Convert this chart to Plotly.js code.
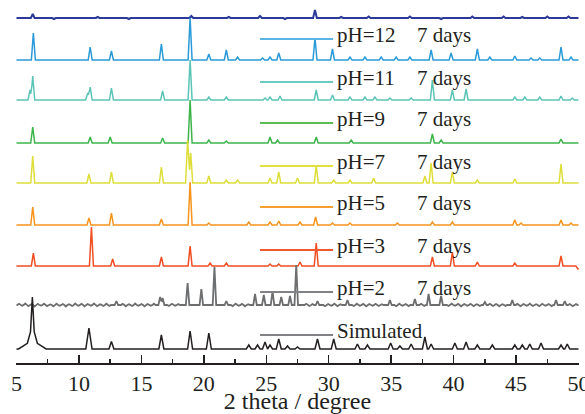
<!DOCTYPE html>
<html>
<head>
<meta charset="utf-8">
<script src="https://cdn.plot.ly/plotly-3.0.1.min.js"></script>
<style>
  html, body { margin: 0; padding: 0; background: #ffffff; }
  #chart { width: 585px; height: 414px; }
</style>
</head>
<body>
<div id="chart"></div>
<script>
// ---------- DATA (2 theta in degrees, relative intensity) ----------
const seriesNames = ["", "pH=12", "pH=11", "pH=9", "pH=7", "pH=5", "pH=3", "pH=2", "Simulated"];
const labelSuffix = ["", "7 days", "7 days", "7 days", "7 days", "7 days", "7 days", "7 days", ""];

// peaks: [position, height] (optional third value: half base width)
const peaksTop = [[6.3,4],[19.0,2],[24.5,2],[28.9,8],[33.2,1.5],[36.5,1.5],[41.5,1.5],[44.0,1.5],[47.5,1.5],[49.2,1.5],
  [8.0,-1],[11.5,1],[14.0,-1],[22.0,1],[26.5,-1],[31.0,1],[39.0,-1],[45.5,1]];
const peaksPH12 = [[6.35,27],[10.9,13],[12.6,9],[16.6,16],[18.9,42],[20.4,6],[21.8,10],[22.7,3],[24.7,2],[25.3,3],[26.0,7],
  [28.9,22],[30.3,11],[31.7,3],[32.9,3],[34.2,3],[35.4,3],[36.5,3],[38.2,10],[39.8,7],[41.9,11],[42.9,3],[44.9,4],
  [46.2,2],[46.9,2],[48.6,13],[49.4,3]];
const peaksPH11 = [[6.08,10],[6.3,24],[10.7,7],[10.9,13],[12.6,12],[16.7,9],[18.9,40],[20.4,3],[21.8,3],[24.9,2],[25.3,3],
  [26.1,4],[29.0,10],[30.3,5],[31.7,3],[32.9,3],[33.7,3],[34.9,2],[36.6,2],[38.3,20],[39.9,10],[41.0,11],[44.9,3],
  [45.7,3],[46.9,3],[48.6,4],[49.5,2]];
const peaksPH9 = [[6.3,16],[10.9,6],[12.5,6],[16.7,5],[18.9,43],[20.4,3],[21.8,2],[25.3,6],[25.9,3],[29.0,6],[31.8,3],
  [38.3,9],[39.0,3],[48.6,4]];
const peaksPH7 = [[6.3,27],[10.8,9],[12.6,11],[16.6,16],[18.7,43],[18.95,30],[20.4,7],[21.8,3],[22.7,3],[25.3,5],[26.0,11],
  [27.5,5],[29.0,17],[30.4,3],[31.7,3],[33.6,5],[37.7,7],[38.2,20],[39.9,11],[41.9,3],[44.9,4],[48.6,19]];
const peaksPH5 = [[6.3,18],[10.8,7],[12.6,12],[16.6,6],[18.9,43],[20.4,2],[23.6,3],[25.3,3],[26.0,4],[27.7,3],[28.95,8],
  [30.3,2],[31.7,2],[35.5,2],[38.3,3],[39.9,3],[44.9,5],[45.4,2],[48.6,5],[49.4,2]];
const peaksPH3 = [[6.35,13],[11.0,39],[12.7,7],[16.6,9],[18.9,20],[20.5,3],[21.8,3],[25.3,2],[26.0,2],[27.7,4],[29.0,23],
  [38.3,9],[39.9,14],[41.9,4],[44.9,3],[48.6,10],[49.95,-3]];
const peaksPH2 = [[13.0,4],[16.5,8],[16.7,7],[18.7,22],[19.8,16],[20.85,38],[21.8,4],[24.1,11],[24.8,10],[25.5,14],[26.2,8],
  [26.9,9],[27.4,40],[29.1,4],[31.5,5],[34.9,5],[36.9,6],[38.0,11],[39.0,9],[42.5,3],[44.7,5],[48.2,5],[48.9,4]];
const noisePH2 = [[5.2,1.2],[5.45,-0.8],[5.7,1.5],[5.95,-1.2],[6.2,0.7],[6.45,-1.5],[6.7,1.1],[6.95,-0.6],[7.2,1.4],
  [7.45,-1.1],[7.7,0.6],[7.95,-1.4],[8.2,1.3],[8.45,-0.7],[8.7,1.0],[8.95,-1.5],[9.2,0.8],[9.45,-1.0],[9.7,1.6],
  [9.95,-0.7],[10.2,1.2],[10.45,-1.3],[10.7,0.9],[10.95,-0.8],[11.2,1.5],[11.45,-1.2],[11.7,0.7],[11.95,-1.0],
  [12.2,1.3],[12.45,-0.9],[13.5,1.1],[13.75,-1.3],[14.0,0.8],[14.25,-1.0],[14.5,1.5],[14.75,-0.7],[15.0,1.0],
  [15.25,-1.4],[15.5,0.9],[15.75,-0.8],[16.0,1.3],[17.2,-1.0],[17.45,1.2],[17.7,-0.8],[17.95,1.0],[22.3,-1.1],
  [22.55,1.3],[22.8,-0.8],[23.05,1.1],[23.3,-1.3],[23.55,0.8],[28.2,1.2],[28.45,-1.0],[28.7,0.9],[29.7,-1.2],
  [29.95,1.0],[30.2,-0.8],[30.45,1.4],[30.7,-1.1],[30.95,0.7],[32.0,-1.0],[32.25,1.3],[32.5,-0.8],[32.75,1.1],
  [33.0,-1.4],[33.25,0.9],[33.5,-0.7],[33.75,1.2],[34.0,-1.0],[34.25,0.8],[35.4,-1.2],[35.65,1.4],[35.9,-0.8],
  [36.15,1.0],[36.4,-1.1],[37.4,1.2],[37.65,-0.9],[39.6,-1.0],[39.85,1.3],[40.1,-0.8],[40.35,1.1],[40.6,-1.3],
  [40.85,0.9],[41.1,-0.7],[41.35,1.2],[41.6,-1.1],[41.85,0.8],[42.1,-1.0],[42.9,1.2],[43.15,-0.9],[43.4,1.0],
  [43.65,-1.3],[43.9,0.8],[44.15,-0.9],[45.1,1.1],[45.35,-1.2],[45.6,0.9],[45.85,-0.8],[46.1,1.4],[46.35,-1.0],
  [46.6,0.8],[46.85,-1.2],[47.1,1.1],[47.35,-0.7],[47.6,1.0],[47.85,-1.1],[49.3,1.0],[49.55,-1.2],[49.8,0.9]];
const peaksSim = [[6.27,28,0.15],[6.27,15,0.4],[6.27,9,1.1],[10.8,21,0.25],[12.6,7.5],[16.6,14],[18.9,18],[20.4,16],[23.6,4],
  [24.3,4],[24.9,7],[25.3,4],[26.0,10],[26.7,3],[27.5,2],[29.1,10],[30.4,10],[32.3,5],[33.1,4],[34.96,6],[35.7,3],
  [36.6,5],[37.7,12],[38.2,5],[40.1,6],[41.0,7],[41.9,4],[43.1,4],[44.9,4],[45.5,4],[46.1,5],[47.0,6],[48.6,4],[49.1,5]];

const xTickVals = [5,10,15,20,25,30,35,40,45,50];
const xTitle = "2 theta / degree";

// ---------- STYLE / LAYOUT CONFIG ----------
const X_MIN = 5, X_MAX = 50;
const allPeaks = [peaksTop, peaksPH12, peaksPH11, peaksPH9, peaksPH7, peaksPH5, peaksPH3, peaksPH2.concat(noisePH2), peaksSim];
const offsets = [345, 303, 263, 220, 180, 138, 97, 58, 14];
const halfWidths = [0.15, 0.16, 0.16, 0.16, 0.16, 0.16, 0.16, 0.14, 0.2];
const lineWidths = [2, 1.5, 1.5, 1.5, 1.5, 1.5, 1.5, 1.8, 1.5];
const colors = ["#2b3a98", "#2a9ad8", "#5cc4b6", "#3db54a", "#dede3a", "#f7941d", "#f04e23", "#6d6e70", "#231f20"];
const keyColors = ["", "#5ab4e4", "#6ccac0", "#5dbd55", "#e2e040", "#f7a030", "#f05a30", "#808285", "#808285"];
const keyY = [0, 324, 281, 240, 197, 156, 113, 71, 28];   // vertical position of each key line (plot units)
const keyX0 = 24.5, keyX1 = 30.35, labelX = 30.5, suffixX = 36.9;
const serif = "Liberation Serif, Times New Roman, serif";

function buildProfile(peaks, defW) {
  const set = new Set([X_MIN, X_MAX]);
  peaks.forEach(p => { const w = p[2] || defW; set.add(p[0] - w); set.add(p[0]); set.add(p[0] + w); });
  const xs = [...set].filter(x => x >= X_MIN && x <= X_MAX).sort((a, b) => a - b);
  const ys = xs.map(x => peaks.reduce((s, p) => {
    const w = p[2] || defW; const t = 1 - Math.abs(x - p[0]) / w;
    return s + (t > 0 ? p[1] * t : 0);
  }, 0));
  return { xs, ys };
}

const traces = allPeaks.map((pk, i) => {
  const pr = buildProfile(pk, halfWidths[i]);
  return {
    type: "scatter", mode: "lines",
    x: pr.xs, y: pr.ys.map(v => v + offsets[i]),
    line: { color: colors[i], width: lineWidths[i] },
    hoverinfo: "skip", showlegend: false
  };
});

const shapes = [];
const annotations = [];
const labelFont = { family: serif, size: 21, color: "#231f20" };
for (let i = 1; i < seriesNames.length; i++) {
  shapes.push({ type: "line", xref: "x", yref: "y", x0: keyX0, x1: keyX1, y0: keyY[i], y1: keyY[i],
    line: { color: keyColors[i], width: 2 } });
  annotations.push({ xref: "x", yref: "y", x: labelX, y: keyY[i] + 4.5, text: seriesNames[i],
    showarrow: false, xanchor: "left", yanchor: "middle", font: labelFont });
  if (labelSuffix[i]) {
    annotations.push({ xref: "x", yref: "y", x: suffixX, y: keyY[i] + 4.5, text: labelSuffix[i],
      showarrow: false, xanchor: "left", yanchor: "middle", font: labelFont });
  }
}

const layout = {
  width: 585, height: 414,
  margin: { l: 16, r: 5.5, t: 0, b: 51, pad: 0 },
  paper_bgcolor: "#ffffff", plot_bgcolor: "#ffffff",
  showlegend: false,
  xaxis: {
    range: [4.96, 50.04], tickmode: "array", tickvals: xTickVals, ticktext: xTickVals.map(String),
    ticks: "inside", ticklen: 8, tickwidth: 1.5, tickcolor: "#231f20",
    minor: { ticks: "inside", ticklen: 4, tickwidth: 1.5, tickcolor: "#231f20", tickmode: "linear", tick0: 7.5, dtick: 5 },
    showline: true, linewidth: 2, linecolor: "#231f20", mirror: false,
    showgrid: false, zeroline: false, ticklabeloverflow: "allow",
    tickfont: { family: serif, size: 22, color: "#231f20" },
    title: { text: xTitle, font: { family: serif, size: 24, color: "#231f20" }, standoff: 5 },
    fixedrange: true
  },
  yaxis: { range: [0, 363], visible: false, showgrid: false, zeroline: false, fixedrange: true },
  shapes: shapes,
  annotations: annotations
};

Plotly.newPlot("chart", traces, layout, { displayModeBar: false, staticPlot: true });
</script>
</body>
</html>
